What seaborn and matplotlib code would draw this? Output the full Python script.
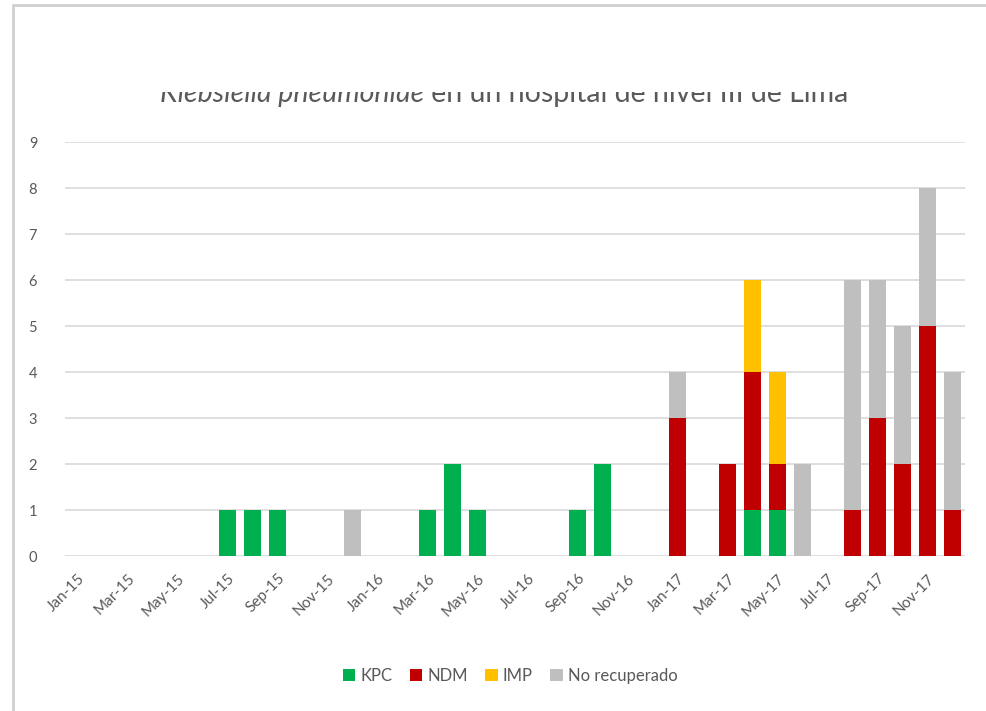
import numpy as np
import pandas as pd
import matplotlib
matplotlib.use("Agg")
import matplotlib.pyplot as plt
from matplotlib.patches import Patch, Rectangle
from matplotlib.lines import Line2D
import seaborn as sns

# monthly counts, Jan-15 .. Dec-17
months = pd.date_range("2015-01-01", "2017-12-01", freq="MS").strftime("%b-%y").tolist()

kpc = [0, 0, 0, 0, 0, 0, 1, 1, 1, 0, 0, 0,
       0, 0, 1, 2, 1, 0, 0, 0, 1, 2, 0, 0,
       0, 0, 0, 1, 1, 0, 0, 0, 0, 0, 0, 0]
ndm = [0, 0, 0, 0, 0, 0, 0, 0, 0, 0, 0, 0,
       0, 0, 0, 0, 0, 0, 0, 0, 0, 0, 0, 0,
       3, 0, 2, 3, 1, 0, 0, 1, 3, 2, 5, 1]
imp = [0, 0, 0, 0, 0, 0, 0, 0, 0, 0, 0, 0,
       0, 0, 0, 0, 0, 0, 0, 0, 0, 0, 0, 0,
       0, 0, 0, 2, 2, 0, 0, 0, 0, 0, 0, 0]
no_rec = [0, 0, 0, 0, 0, 0, 0, 0, 0, 0, 0, 1,
          0, 0, 0, 0, 0, 0, 0, 0, 0, 0, 0, 0,
          1, 0, 0, 0, 0, 2, 0, 5, 3, 3, 3, 3]

series = ["KPC", "NDM", "IMP", "No recuperado"]
colors = ["#00B050", "#C00000", "#FFC000", "#BFBFBF"]

df = pd.DataFrame({"month": months, "KPC": kpc, "NDM": ndm,
                   "IMP": imp, "No recuperado": no_rec})

sns.set_style("white")
plt.rcParams["font.family"] = ["Lato", "DejaVu Sans"]

fig = plt.figure(figsize=(9.86, 7.11), dpi=100)
ax = fig.add_axes([65 / 986, 1 - 556 / 711, 900 / 986, 414 / 711])

# stacked bars, one seaborn call per series
bottom = np.zeros(len(months))
for name, col in zip(series, colors):
    sns.barplot(data=df, x="month", y=name, order=months, color=col,
                width=0.68, bottom=bottom, saturation=1, ax=ax,
                linewidth=0, zorder=3)
    bottom = bottom + df[name].values

ax.set_xlim(-0.5, len(months) - 0.5)
ax.set_ylim(0, 9)
ax.set_yticks(range(10))
ax.yaxis.grid(True, color="#D9D9D9", linewidth=1.2, zorder=0)
ax.set_axisbelow(True)
sns.despine(ax=ax, left=True, bottom=True)
ax.set_xlabel("")
ax.set_ylabel("")

ax.set_xticks(range(0, len(months), 2))
ax.set_xticklabels(months[::2], rotation=45, ha="right", va="top",
                   rotation_mode="anchor")
ax.tick_params(axis="x", length=0, pad=11, labelsize=11, labelcolor="#595959")
ax.tick_params(axis="y", length=0, pad=20, labelsize=10.5, labelcolor="#595959")

handles = [Patch(facecolor=c, edgecolor="none", label=s) for s, c in zip(series, colors)]
fig.legend(handles=handles, loc="center", bbox_to_anchor=(510 / 986, 1 - 676 / 711),
           ncol=4, frameon=False, handlelength=0.75, handleheight=0.75,
           handletextpad=0.3, columnspacing=1.05, fontsize=12,
           labelcolor="#595959")

# title, top half hidden as in the source image
split_x = 424 / 986
base_y = 1 - 102 / 711
fig.text(split_x, base_y, "Klebsiella pneumoniae", ha="right", va="baseline",
         fontsize=20.5, style="italic", color="#595959")
fig.text(split_x, base_y, " en un hospital de nivel III de Lima", ha="left",
         va="baseline", fontsize=20.5, color="#595959")
fig.patches.append(Rectangle((14 / 986, 1 - 92 / 711), 1, 92 / 711,
                             transform=fig.transFigure, facecolor="white",
                             edgecolor="none", zorder=5))

# outer frame lines (left and top)
fig.lines.append(Line2D([13 / 986, 13 / 986], [0, 1 - 5 / 711],
                        transform=fig.transFigure, color="#D0D0D0", lw=2, zorder=6))
fig.lines.append(Line2D([13 / 986, 1], [1 - 5 / 711, 1 - 5 / 711],
                        transform=fig.transFigure, color="#D0D0D0", lw=2, zorder=6))

fig.savefig("out.png", dpi=100, facecolor="white")
